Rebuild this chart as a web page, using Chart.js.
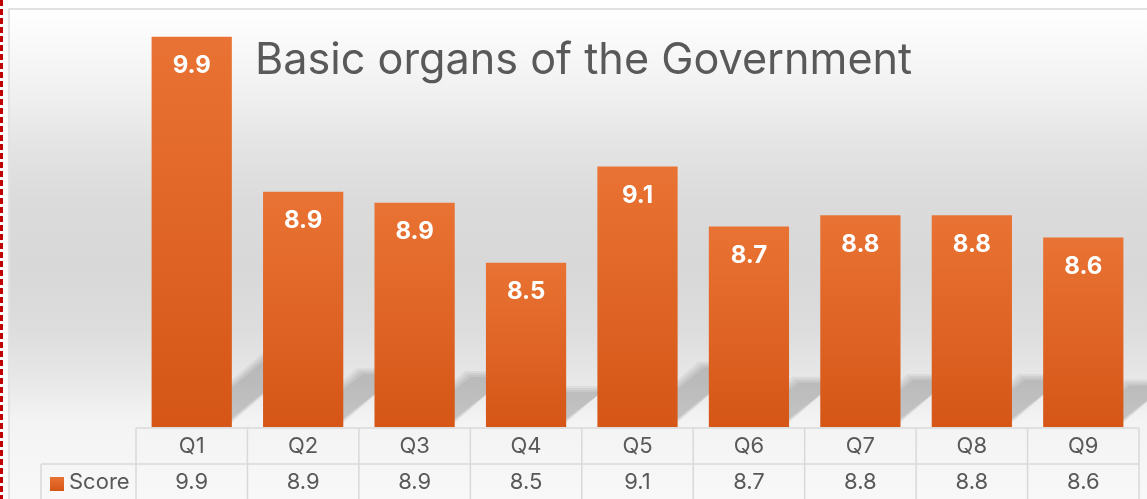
<!DOCTYPE html>
<html>
<head>
<meta charset="utf-8">
<script src="https://cdn.jsdelivr.net/npm/chart.js@4.4.0/dist/chart.umd.min.js"></script>
<style>
  html, body { margin: 0; padding: 0; background: #fff; }
  #wrap { width: 1147px; height: 499px; position: relative; }
</style>
</head>
<body>
<div id="wrap"><canvas id="myChart"></canvas></div>
<script>
// data
const categories = ['Q1', 'Q2', 'Q3', 'Q4', 'Q5', 'Q6', 'Q7', 'Q8', 'Q9'];
const scores = [9.91, 8.93, 8.86, 8.48, 9.09, 8.71, 8.78, 8.78, 8.64];
const seriesName = 'Score';
const chartTitle = 'Basic organs of the Government';
const yMin = 7.44;
const yMax = 10.08;

const FONT = 'Inter, Roboto, sans-serif';
const TEXT = '#595959';
const GRID = '#d9d9d9';
const BAR_PCT = 0.72;

function barFill(c) {
  const chart = c.chart;
  const a = chart.chartArea;
  if (!a || !chart.scales.y) return '#E0652A';
  const top = chart.scales.y.getPixelForValue(c.raw);
  const g = chart.ctx.createLinearGradient(0, top, 0, a.bottom);
  g.addColorStop(0, '#E97334');
  g.addColorStop(1, '#D55617');
  return g;
}

// background, border, dashed selection mark and the bar shadows
const bgPlugin = {
  id: 'bg',
  beforeDraw(chart) {
    const ctx = chart.ctx, W = chart.width, H = chart.height;
    ctx.save();
    ctx.fillStyle = '#fff';
    ctx.fillRect(0, 0, W, H);
    const g = ctx.createLinearGradient(0, 10, 0, H);
    const stops = [[10, '#ffffff'], [100, '#efefef'], [150, '#e3e3e3'], [200, '#dbdbdb'],
                   [270, '#d8d8d8'], [330, '#dddddd'], [380, '#e8e8e8'], [420, '#f3f3f3'], [499, '#f8f8f8']];
    stops.forEach(s => g.addColorStop((s[0] - 10) / (H - 10), s[1]));
    ctx.fillStyle = g;
    ctx.fillRect(10, 10, W - 10, H - 10);
    ctx.strokeStyle = GRID;
    ctx.lineWidth = 1.5;
    ctx.beginPath();
    ctx.moveTo(9, H); ctx.lineTo(9, 9); ctx.lineTo(W, 9);
    ctx.stroke();
    ctx.strokeStyle = '#c00000';
    ctx.lineWidth = 3;
    ctx.setLineDash([6, 3]);
    ctx.beginPath();
    ctx.moveTo(1.5, 0); ctx.lineTo(1.5, H);
    ctx.stroke();
    ctx.setLineDash([]);

    // perspective shadows, from the scales
    const a = chart.chartArea, xs = chart.scales.x, ys = chart.scales.y;
    const bw = (a.right - a.left) / categories.length * BAR_PCT;
    const b = a.bottom;
    scores.forEach((v, i) => {
      const cx = xs.getPixelForValue(i);
      const x0 = cx - bw / 2, x1 = cx + bw / 2;
      const h = b - ys.getPixelForValue(v);
      const hs = h * 0.25, dx = hs * 1.15;
      for (let k = 0; k < 4; k++) {
        const e = k * 2;
        ctx.fillStyle = 'rgba(0,0,0,0.05)';
        ctx.beginPath();
        ctx.moveTo(x0 + 26 + e, b);
        ctx.lineTo(x1 - 5 - e, b);
        ctx.lineTo(x1 - 5 - e + dx, b - hs + e);
        ctx.lineTo(x0 + 26 + e + dx, b - hs + e);
        ctx.closePath();
        ctx.fill();
      }
    });
    ctx.restore();
  }
};

// value labels inside the bars + title
const labelPlugin = {
  id: 'labels',
  afterDatasetsDraw(chart) {
    const ctx = chart.ctx;
    const meta = chart.getDatasetMeta(0);
    ctx.save();
    ctx.fillStyle = '#ffffff';
    ctx.font = 'bold 24px ' + FONT;
    ctx.textAlign = 'center';
    ctx.textBaseline = 'middle';
    meta.data.forEach((bar, i) => {
      ctx.fillText(scores[i].toFixed(1), bar.x, bar.y + 29);
    });

    ctx.fillStyle = TEXT;
    ctx.textAlign = 'left';
    ctx.textBaseline = 'alphabetic';
    let size = 43;
    ctx.font = size + 'px ' + FONT;
    const w = ctx.measureText(chartTitle).width;
    size = size * 657 / w;
    ctx.font = size.toFixed(1) + 'px ' + FONT;
    ctx.fillText(chartTitle, 255, 74);
    ctx.restore();
  }
};

// data table under the plot
const tablePlugin = {
  id: 'table',
  afterDraw(chart) {
    const ctx = chart.ctx, a = chart.chartArea, x = chart.scales.x;
    const n = categories.length;
    const cw = (a.right - a.left) / n;
    const r1 = a.bottom + 1, r2 = r1 + 36, r3 = chart.height + 1;
    ctx.save();
    ctx.strokeStyle = GRID;
    ctx.lineWidth = 1.5;
    ctx.beginPath();
    ctx.moveTo(a.left, r1); ctx.lineTo(a.right, r1);
    ctx.moveTo(41, r2); ctx.lineTo(a.right, r2);
    for (let i = 0; i <= n; i++) {
      const xx = a.left + i * cw;
      ctx.moveTo(xx, r1); ctx.lineTo(xx, r3);
    }
    ctx.moveTo(41, r2); ctx.lineTo(41, r3);
    ctx.stroke();

    ctx.fillStyle = TEXT;
    ctx.font = '22px ' + FONT;
    ctx.textAlign = 'center';
    ctx.textBaseline = 'middle';
    categories.forEach((c, i) => {
      const cx = x.getPixelForValue(i);
      ctx.fillText(c, cx, (r1 + r2) / 2);
      ctx.fillText(scores[i].toFixed(1), cx, r2 + 18);
    });

    const g = ctx.createLinearGradient(0, 477, 0, 491);
    g.addColorStop(0, '#E97334');
    g.addColorStop(1, '#D55617');
    ctx.fillStyle = g;
    ctx.fillRect(50, 477, 14, 14);
    ctx.fillStyle = TEXT;
    ctx.textAlign = 'left';
    ctx.fillText(seriesName, 69, r2 + 18);
    ctx.restore();
  }
};

const ctx = document.getElementById('myChart').getContext('2d');
const myChart = new Chart(ctx, {
  type: 'bar',
  data: {
    labels: categories,
    datasets: [{
      label: seriesName,
      data: scores,
      backgroundColor: barFill,
      borderWidth: 0,
      barPercentage: BAR_PCT,
      categoryPercentage: 1
    }]
  },
  options: {
    responsive: true,
    maintainAspectRatio: false,
    animation: false,
    layout: { padding: { left: 136, right: 8, top: 10, bottom: 72 } },
    scales: {
      x: { display: false },
      y: { display: false, min: yMin, max: yMax }
    },
    plugins: {
      legend: { display: false },
      title: { display: false },
      tooltip: { enabled: false }
    }
  },
  plugins: [bgPlugin, labelPlugin, tablePlugin]
});
</script>
</body>
</html>
